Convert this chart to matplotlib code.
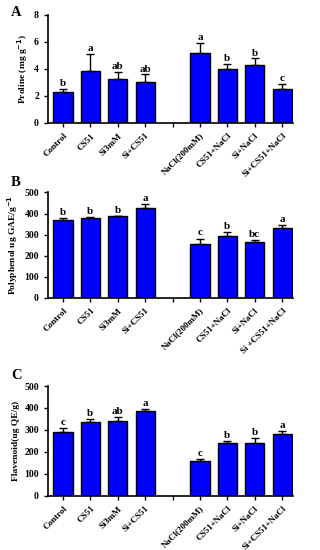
import numpy as np
import matplotlib as mpl; mpl.use("Agg")
import matplotlib.pyplot as plt

mpl.rcParams.update({
    "font.family": "serif",
    "font.serif": ["Liberation Serif", "DejaVu Serif"],
    "font.weight": "bold",
    "axes.linewidth": 1.2,
    "mathtext.default": "bf",
})

BLUE = "#0000ff"

# x positions: index 4 is the empty gap between the two groups
POS = [0, 1, 2, 3, 5, 6, 7, 8]
LABELS_A = ["Control", "CS51", "Si3mM", "Si+CS51",
            "NaCl(200mM)", "CS51+NaCl", "Si+NaCl", "Si+CS51+NaCl"]
LABELS_B = ["Control", "CS51", "Si3mM", "Si+CS51",
            "NaCl(200mM)", "CS51+NaCl", "Si+NaCl", "Si +CS51+NaCl"]

# Panel A: proline
proline = [2.25, 3.82, 3.27, 3.02, 5.2, 4.0, 4.26, 2.53]
proline_err = [0.25, 1.3, 0.5, 0.57, 0.74, 0.37, 0.52, 0.37]
proline_let = ["b", "a", "ab", "ab", "a", "b", "b", "c"]

# Panel B: polyphenol
poly = [371, 379, 386, 425, 254, 295, 263, 333]
poly_err = [8, 5, 4, 20, 27, 19, 13, 13]
poly_let = ["b", "b", "b", "a", "c", "b", "bc", "a"]

# Panel C: flavonoid
flav = [292, 337, 342, 386, 157, 238, 242, 283]
flav_err = [15, 12, 18, 10, 8, 9, 20, 10]
flav_let = ["c", "b", "ab", "a", "c", "b", "b", "a"]

fig = plt.figure(figsize=(3.2, 5.5), dpi=100)


def panel(rect, vals, errs, lets, labels, ymax, yticks, ylabel, tag, tag_y, pad):
    ax = fig.add_axes(rect)
    ax.bar(POS, vals, width=0.7, color=BLUE, edgecolor="black", lw=1.0, zorder=2)
    ax.errorbar(POS, vals, yerr=[np.zeros(len(errs)), errs], fmt="none",
                ecolor="black", elinewidth=1.0, capsize=3, capthick=1.0, zorder=3)
    for x, v, e, l in zip(POS, vals, errs, lets):
        ax.text(x, v + e + pad, l, ha="center", va="bottom", fontsize=8,
                fontweight="bold")
    ax.set_xlim(-0.55, 8.4)
    ax.set_ylim(0, ymax)
    ax.set_yticks(yticks)
    ax.set_xticks(POS[:4] + [4] + POS[4:])
    ax.set_xticklabels(labels[:4] + [""] + labels[4:], rotation=45, ha="right",
                       rotation_mode="anchor", fontsize=6.5, fontweight="bold")
    ax.tick_params(axis="y", labelsize=7, width=1.0, length=3)
    ax.tick_params(axis="x", width=1.0, length=3)
    for t in ax.get_yticklabels():
        t.set_fontweight("bold")
    ax.set_ylabel(ylabel, fontsize=6.8, fontweight="bold", labelpad=3)
    ax.spines["top"].set_visible(False)
    ax.spines["right"].set_visible(False)
    fig.text(0.035, tag_y, tag, fontsize=10.5, fontweight="bold", va="center")
    return ax


panel([0.15, 0.777, 0.766, 0.196], proline, proline_err, proline_let, LABELS_A,
      8, [0, 2, 4, 6, 8], "Proline (mg g$^{-1}$)", "A", 0.978, 0.05)
panel([0.15, 0.459, 0.766, 0.191], poly, poly_err, poly_let, LABELS_B,
      500, [0, 100, 200, 300, 400, 500], "Polyphenol ug GAE/g$^{-1}$", "B", 0.668, 5)
panel([0.15, 0.099, 0.766, 0.199], flav, flav_err, flav_let, LABELS_A,
      500, [0, 100, 200, 300, 400, 500], "Flavenoid(ug QE/g)", "C", 0.318, 5)

fig.savefig("out.png", dpi=100, facecolor="white")
